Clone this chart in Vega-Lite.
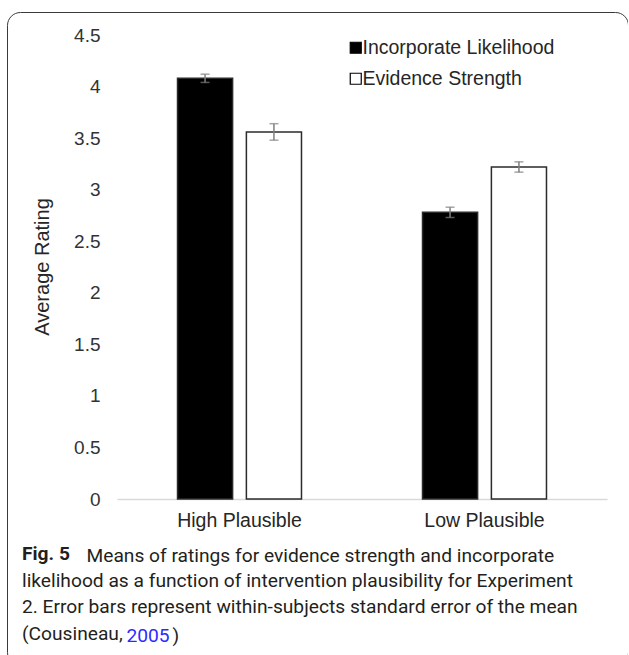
{
  "$schema": "https://vega.github.io/schema/vega-lite/v6.json",
  "autosize": {"type": "none"},
  "padding": {"left": 7, "top": 12, "right": 0, "bottom": 0},
  "width": 621,
  "height": 653,
  "background": "white",
  "config": {
    "view": {"stroke": "#3a3a3a", "strokeWidth": 1, "cornerRadius": 13, "fill": "white"},
    "font": "Liberation Sans"
  },
  "title": {
    "text": "Fig. 5",
    "subtitle": [
      "likelihood as a function of intervention plausibility for Experiment",
      "2. Error bars represent within-subjects standard error of the mean",
      "(Cousineau,"
    ],
    "orient": "bottom",
    "anchor": "start",
    "frame": "group",
    "offset": -120,
    "dx": 15,
    "font": "Roboto",
    "fontSize": 19.2,
    "fontWeight": "bold",
    "color": "#231f20",
    "subtitleFont": "Roboto",
    "subtitleFontSize": 19.2,
    "subtitleColor": "#231f20",
    "subtitlePadding": 7.5,
    "subtitleLineHeight": 26.7
  },
  "data": {
    "values": [
      {"group": "High Plausible", "measure": "Incorporate Likelihood", "value": 4.08, "lo": 4.04, "hi": 4.12},
      {"group": "High Plausible", "measure": "Evidence Strength", "value": 3.56, "lo": 3.48, "hi": 3.64},
      {"group": "Low Plausible", "measure": "Incorporate Likelihood", "value": 2.78, "lo": 2.73, "hi": 2.83},
      {"group": "Low Plausible", "measure": "Evidence Strength", "value": 3.22, "lo": 3.17, "hi": 3.27}
    ]
  },
  "resolve": {"axis": {"x": "independent", "y": "independent"}},
  "encoding": {
    "xOffset": {
      "field": "measure",
      "type": "nominal",
      "sort": ["Incorporate Likelihood", "Evidence Strength"],
      "scale": {"paddingInner": 0.2, "paddingOuter": 0}
    }
  },
  "layer": [
    {
      "mark": {"type": "bar", "stroke": "#2b2b2b", "strokeWidth": 1.5},
      "encoding": {
        "x": {
          "field": "group",
          "type": "nominal",
          "sort": ["High Plausible", "Low Plausible"],
          "scale": {"range": [110, 600], "paddingInner": 0.494, "paddingOuter": 0.247},
          "axis": {
            "title": "Means of ratings for evidence strength and incorporate",
            "titleFont": "Roboto",
            "titleFontSize": 19.2,
            "titleFontWeight": "normal",
            "titleColor": "#231f20",
            "titleX": 79,
            "titleY": 62,
            "titleAlign": "left",
            "titleAnchor": "start",
            "titleBaseline": "alphabetic",
            "orient": "bottom",
            "offset": -166,
            "ticks": false,
            "tickSize": 0,
            "labelPadding": 12,
            "labelAngle": 0,
            "labelFont": "Liberation Sans",
            "labelFontSize": 19.5,
            "labelColor": "#262626",
            "domainColor": "#d9d9d9",
            "domainWidth": 1.5
          }
        },
        "y": {
          "field": "value",
          "type": "quantitative",
          "scale": {"domain": [0, 4.5], "range": [487, 23], "nice": false},
          "axis": {
            "title": "Average Rating",
            "values": [0, 0.5, 1, 1.5, 2, 2.5, 3, 3.5, 4, 4.5],
            "format": "~g",
            "orient": "left",
            "offset": -93,
            "domain": false,
            "ticks": false,
            "tickSize": 0,
            "grid": false,
            "labelPadding": 0,
            "labelFont": "Liberation Sans",
            "labelFontSize": 19,
            "labelColor": "#333333",
            "titleFont": "Liberation Sans",
            "titleFontSize": 20,
            "titleFontWeight": "normal",
            "titleColor": "#262626",
            "titleAngle": -90,
            "titleX": -48,
            "titleY": 254.5,
            "titleBaseline": "bottom",
            "titleAlign": "center"
          }
        },
        "fill": {
          "field": "measure",
          "type": "nominal",
          "scale": {"domain": ["Incorporate Likelihood", "Evidence Strength"], "range": ["#000000", "#ffffff"]},
          "legend": {
            "title": null,
            "orient": "none",
            "legendX": 339,
            "legendY": 26,
            "symbolType": "square",
            "symbolSize": 121,
            "symbolStrokeColor": "#000000",
            "symbolStrokeWidth": 1.2,
            "labelFont": "Liberation Sans",
            "labelFontSize": 19.5,
            "labelColor": "#262626",
            "labelLimit": 400,
            "labelOffset": -3,
            "rowPadding": 10,
            "padding": 0
          }
        }
      }
    },
    {
      "mark": {"type": "rule", "color": "#7f7f7f", "strokeWidth": 1.5},
      "encoding": {
        "x": {"field": "group", "type": "nominal", "sort": ["High Plausible", "Low Plausible"], "axis": null},
        "y": {"field": "lo", "type": "quantitative", "axis": null},
        "y2": {"field": "hi"}
      }
    },
    {
      "mark": {"type": "tick", "color": "#7f7f7f", "size": 9, "thickness": 1.5},
      "encoding": {
        "x": {"field": "group", "type": "nominal", "sort": ["High Plausible", "Low Plausible"], "axis": null},
        "y": {
          "field": "lo",
          "type": "quantitative",
          "axis": {
            "orient": "right",
            "labels": false,
            "domain": false,
            "ticks": false,
            "grid": false,
            "title": ")",
            "titleFont": "Roboto",
            "titleFontSize": 19.2,
            "titleFontWeight": "normal",
            "titleColor": "#231f20",
            "titleAngle": 0,
            "titleAlign": "left",
            "titleBaseline": "alphabetic",
            "titleX": -456,
            "titleY": 629
          }
        }
      }
    },
    {
      "mark": {"type": "tick", "color": "#7f7f7f", "size": 9, "thickness": 1.5},
      "encoding": {
        "x": {
          "field": "group",
          "type": "nominal",
          "sort": ["High Plausible", "Low Plausible"],
          "axis": {
            "orient": "top",
            "labels": false,
            "domain": false,
            "ticks": false,
            "grid": false,
            "title": "2005",
            "titleFont": "Roboto",
            "titleFontSize": 19.2,
            "titleFontWeight": "normal",
            "titleColor": "#2b2bff",
            "titleAlign": "left",
            "titleAnchor": "start",
            "titleBaseline": "alphabetic",
            "titleX": 119,
            "titleY": 629
          }
        },
        "y": {"field": "hi", "type": "quantitative", "axis": null}
      }
    }
  ]
}
